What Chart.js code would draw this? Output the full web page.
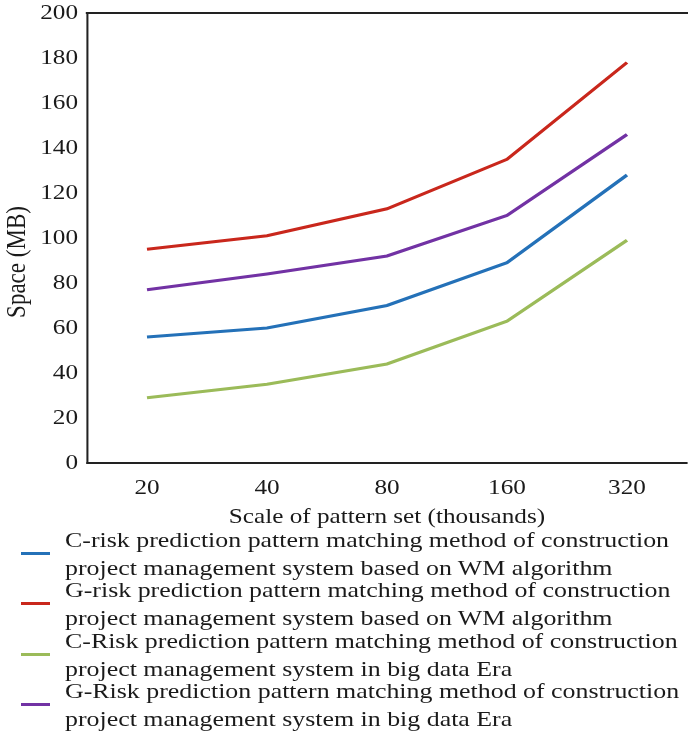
<!DOCTYPE html>
<html>
<head>
<meta charset="utf-8">
<script src="https://cdn.jsdelivr.net/npm/chart.js@4/dist/chart.umd.min.js"></script>
<style>
  html, body { margin: 0; padding: 0; background: #fff; }
  #wrap { position: relative; width: 688px; height: 733px; overflow: hidden; }
  #box { position: absolute; left: 0; top: 0; width: 688px; height: 530px; }
  #legend { position: absolute; left: 0; top: 0; width: 688px; height: 733px;
            font-family: "Liberation Serif", "Times New Roman", serif; color: #1a1a1a; pointer-events: none; }
  .item { position: absolute; left: 0; width: 688px; height: 56px; }
  .sw { position: absolute; left: 21px; width: 29px; height: 3px; }
  .txt { position: absolute; left: 65px; top: 0; font-size: 22px; line-height: 28px; white-space: nowrap;
         transform: scaleX(1.177); transform-origin: 0 0; }
</style>
</head>
<body>
<div id="wrap">
  <div id="box"><canvas id="c"></canvas></div>
  <div id="legend"></div>
</div>
<script>
// Pattern-set sizes (thousands)
const categories = ['20', '40', '80', '160', '320'];

// Memory use (MB) per method
const cRiskWM  = [56, 60, 70, 89, 128];
const gRiskWM  = [95, 101, 113, 135, 178];
const cRiskBig = [29, 35, 44, 63, 99];
const gRiskBig = [77, 84, 92, 110, 146];

// Legend text, split where each entry wraps
const seriesLabels = [
  ['C-risk prediction pattern matching method of construction', 'project management system based on WM algorithm'],
  ['G-risk prediction pattern matching method of construction', 'project management system based on WM algorithm'],
  ['C-Risk prediction pattern matching method of construction', 'project management system in big data Era'],
  ['G-Risk prediction pattern matching method of construction', 'project management system in big data Era']
];
const seriesColors = ['#2471b8', '#c9271c', '#9bbb59', '#7232a4'];

const yTicks = { min: 0, max: 200, step: 20 };
const xTitle = 'Scale of pattern set (thousands)';
const yTitle = 'Space (MB)';

const FONT = '"Liberation Serif", "Times New Roman", serif';
const INK = '#1a1a1a';
const STRETCH = 1.2;          // horizontal widening of the whole drawing
const CANVAS_W = 688;

const seriesValues = [cRiskWM, gRiskWM, cRiskBig, gRiskBig];

// Frame line along the top of the plot area, running to the right edge
const topFrame = {
  id: 'topFrame',
  afterDraw(chart) {
    const { ctx, chartArea } = chart;
    ctx.save();
    ctx.strokeStyle = '#222';
    ctx.lineWidth = 2;
    ctx.beginPath();
    ctx.moveTo(chartArea.left - 1, chartArea.top);
    ctx.lineTo(chart.width, chartArea.top);
    ctx.stroke();
    ctx.restore();
  }
};

// Vertical axis title, set a little below the middle of the axis
const yAxisTitle = {
  id: 'yAxisTitle',
  afterDraw(chart) {
    const { ctx, chartArea } = chart;
    ctx.save();
    ctx.font = '23px ' + FONT;
    ctx.fillStyle = INK;
    ctx.textAlign = 'center';
    ctx.textBaseline = 'middle';
    ctx.translate(14.5, (chartArea.top + chartArea.bottom) / 2 + 24);
    ctx.rotate(-Math.PI / 2);
    ctx.fillText(yTitle, 0, 0);
    ctx.restore();
  }
};

// Widen everything horizontally (layout is done on CANVAS_W / STRETCH units)
const stretch = {
  id: 'stretch',
  beforeDraw(chart) { chart.ctx.save(); chart.ctx.scale(STRETCH, 1); },
  afterDraw(chart) { chart.ctx.restore(); }
};

new Chart(document.getElementById('c'), {
  type: 'line',
  data: {
    labels: categories,
    datasets: seriesValues.map((vals, i) => ({
      label: seriesLabels[i].join(' '),
      data: vals,
      borderColor: seriesColors[i],
      backgroundColor: seriesColors[i],
      borderWidth: 3,
      pointRadius: 0,
      tension: 0,
      fill: false
    }))
  },
  options: {
    responsive: true,
    maintainAspectRatio: false,
    animation: false,
    layout: { padding: { top: 13, right: CANVAS_W - (CANVAS_W - 1) / STRETCH, bottom: 0, left: 0 } },
    plugins: {
      legend: { display: false },
      tooltip: { enabled: false }
    },
    scales: {
      x: {
        offset: true,
        grid: { display: false, drawTicks: false },
        border: { display: true, color: '#222', width: 2 },
        ticks: { font: { family: FONT, size: 21 }, color: INK, padding: 13 },
        title: { display: true, text: xTitle, font: { family: FONT, size: 21 }, color: INK,
                 padding: { top: 0, bottom: 0 } },
        afterFit(scale) { scale.height = 67; scale.paddingLeft = 0; scale.paddingRight = 0; }
      },
      y: {
        min: yTicks.min,
        max: yTicks.max,
        grid: { display: false, drawTicks: false },
        border: { display: true, color: '#222', width: 1.7 },
        ticks: { stepSize: yTicks.step, font: { family: FONT, size: 21 }, color: INK, padding: 7.5 },
        afterFit(scale) { scale.width = 87 / STRETCH; scale.paddingTop = 0; scale.paddingBottom = 0; }
      }
    }
  },
  plugins: [topFrame, yAxisTitle, stretch]
});

// Legend below the chart: coloured line swatch beside two lines of text
const legend = document.getElementById('legend');
const legendTop = 526, legendStep = 50.3;
seriesLabels.forEach((lines, i) => {
  const item = document.createElement('div');
  item.className = 'item';
  item.style.top = (legendTop + i * legendStep) + 'px';
  const sw = document.createElement('div');
  sw.className = 'sw';
  sw.style.top = '26px';
  sw.style.background = seriesColors[i];
  const txt = document.createElement('div');
  txt.className = 'txt';
  lines.forEach((l, k) => {
    if (k) txt.appendChild(document.createElement('br'));
    txt.appendChild(document.createTextNode(l));
  });
  item.appendChild(sw);
  item.appendChild(txt);
  legend.appendChild(item);
});
</script>
</body>
</html>
